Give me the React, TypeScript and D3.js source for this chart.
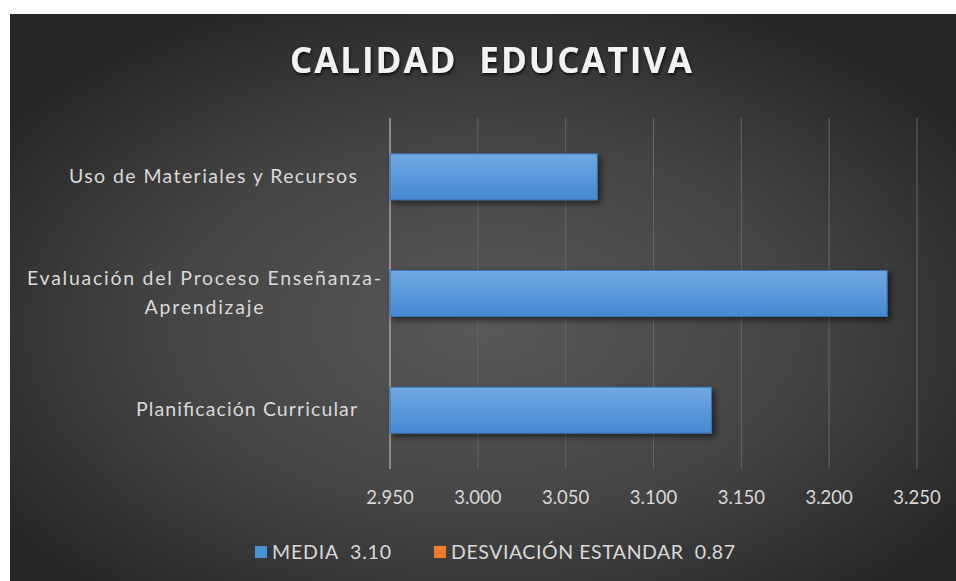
import React from "react";
import * as d3 from "d3";

const categories = [
  "Uso de Materiales y Recursos",
  "Evaluación del Proceso Enseñanza-Aprendizaje",
  "Planificación Curricular",
];
const categoryLines = [
  ["Uso de Materiales y Recursos"],
  ["Evaluación del Proceso Enseñanza-", "Aprendizaje"],
  ["Planificación Curricular"],
];
const mediaValues = [3.068, 3.233, 3.133];
const xTicks = [2.95, 3.0, 3.05, 3.1, 3.15, 3.2, 3.25];
const legendItems = [
  { label: "MEDIA  3.10", color: "#4a90d9" },
  { label: "DESVIACIÓN ESTANDAR  0.87", color: "#ed7d31" },
];
const title = "CALIDAD  EDUCATIVA";

const W = 956;
const H = 581;

export default function App() {
  const x = d3.scaleLinear().domain([2.95, 3.25]).range([390, 917]);
  const y = d3
    .scaleBand<string>()
    .domain(categories)
    .range([118.5, 468.5])
    .paddingInner(0.606)
    .paddingOuter(0.303);
  const fmt = d3.format(".3f");
  const labelFont = "Lato, 'Open Sans', sans-serif";
  const labelWidths = [[288], [354, 119], [221]];

  return (
    <svg
      width={W}
      height={H}
      style={{ position: "absolute", left: 0, top: 0 }}
      xmlns="http://www.w3.org/2000/svg"
    >
      <defs>
        <radialGradient id="bg" cx="0.5" cy="0.55" r="0.62">
          <stop offset="0" stopColor="#585858" />
          <stop offset="0.55" stopColor="#444444" />
          <stop offset="1" stopColor="#262626" />
        </radialGradient>
        <linearGradient id="bar" x1="0" y1="0" x2="0" y2="1">
          <stop offset="0" stopColor="#70a9e2" />
          <stop offset="1" stopColor="#4688d2" />
        </linearGradient>
        <filter id="barShadow" x="-10%" y="-30%" width="130%" height="180%">
          <feDropShadow dx="3" dy="3" stdDeviation="3" floodColor="#000" floodOpacity="0.55" />
        </filter>
        <filter id="titleShadow" x="-10%" y="-30%" width="120%" height="180%">
          <feDropShadow dx="1" dy="2" stdDeviation="1.6" floodColor="#000" floodOpacity="0.75" />
        </filter>
      </defs>
      <rect x={0} y={0} width={W} height={H} fill="#ffffff" />
      <rect x={10} y={14} width={W - 10} height={H - 14} fill="url(#bg)" />

      <text
        x={491}
        y={73}
        textAnchor="middle"
        fill="#f2f2f2"
        fontFamily="'Open Sans', sans-serif"
        fontWeight="bold"
        fontSize={35}
        textLength={402}
        lengthAdjust="spacing"
        filter="url(#titleShadow)"
        style={{ whiteSpace: "pre" }}
      >
        {title}
      </text>

      {xTicks.map((t, i) => (
        <line
          key={"g" + i}
          x1={x(t)}
          x2={x(t)}
          y1={118}
          y2={469}
          stroke={i === 0 ? "#a6a6a6" : "#666666"}
          strokeWidth={i === 0 ? 1.5 : 1}
        />
      ))}

      {categories.map((c, i) => (
        <rect
          key={"b" + i}
          x={x(2.95)}
          y={y(c)}
          width={x(mediaValues[i]) - x(2.95)}
          height={y.bandwidth()}
          fill="url(#bar)"
          stroke="#3f74ad"
          strokeWidth={1}
          filter="url(#barShadow)"
        />
      ))}

      {categories.map((c, i) => {
        const lines = categoryLines[i];
        const cy = (y(c) as number) + y.bandwidth() / 2;
        const lh = 29;
        if (lines.length === 1) {
          return (
            <text
              key={"l" + i}
              x={x(2.95) - 33}
              y={cy + 6}
              textAnchor="end"
              fill="#d9d9d9"
              fontFamily={labelFont}
              fontSize={19.5}
              textLength={labelWidths[i][0]}
              lengthAdjust="spacing"
            >
              {lines[0]}
            </text>
          );
        }
        return lines.map((ln, j) => (
          <text
            key={"l" + i + "_" + j}
            x={x(2.95) - 9 - labelWidths[i][0] / 2}
            y={cy + 6 + (j - (lines.length - 1) / 2) * lh}
            textAnchor="middle"
            fill="#d9d9d9"
            fontFamily={labelFont}
            fontSize={19.5}
            textLength={labelWidths[i][j]}
            lengthAdjust="spacing"
          >
            {ln}
          </text>
        ));
      })}

      {xTicks.map((t, i) => (
        <text
          key={"t" + i}
          x={x(t)}
          y={504}
          textAnchor="middle"
          fill="#d9d9d9"
          fontFamily={labelFont}
          fontSize={18.5}
        >
          {fmt(t)}
        </text>
      ))}

      {legendItems.map((it, i) => {
        const lx = i === 0 ? 255 : 434;
        const tw = i === 0 ? 119 : 284;
        return (
          <g key={"lg" + i}>
            <rect x={lx} y={546} width={12} height={12} fill={it.color} />
            <text
              x={lx + 17}
              y={559}
              fill="#d9d9d9"
              fontFamily={labelFont}
              fontSize={19.5}
              textLength={tw}
              lengthAdjust="spacing"
              style={{ whiteSpace: "pre" }}
            >
              {it.label}
            </text>
          </g>
        );
      })}
    </svg>
  );
}
